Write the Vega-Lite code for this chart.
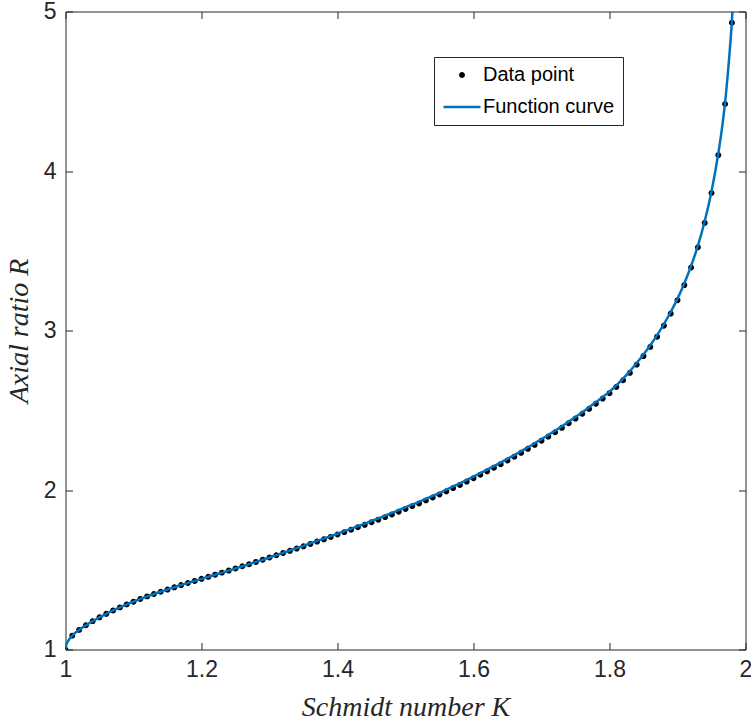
{
  "$schema": "https://vega.github.io/schema/vega-lite/v6.json",
  "width": 680,
  "height": 638,
  "autosize": {"type": "none"},
  "padding": {"left": 65.5, "top": 11.5, "right": 5.5, "bottom": 76.5},
  "background": "white",
  "config": {
    "view": {"stroke": null},
    "axis": {
      "grid": false,
      "labelFont": "Liberation Sans",
      "labelFontSize": 23,
      "labelColor": "#262626",
      "domainColor": "#262626",
      "domainWidth": 1,
      "tickColor": "#262626",
      "tickWidth": 1,
      "tickSize": -7,
      "titleFont": "Liberation Serif",
      "titleFontStyle": "italic",
      "titleFontWeight": "normal",
      "titleFontSize": 28,
      "titleColor": "#262626"
    }
  },
  "datasets": {
    "points": [
      {"K": 1.00, "R": 1.000}, {"K": 1.01, "R": 1.087}, {"K": 1.02, "R": 1.123}, {"K": 1.03, "R": 1.152},
      {"K": 1.04, "R": 1.178}, {"K": 1.05, "R": 1.202}, {"K": 1.06, "R": 1.224}, {"K": 1.07, "R": 1.245},
      {"K": 1.08, "R": 1.264}, {"K": 1.09, "R": 1.283}, {"K": 1.10, "R": 1.300}, {"K": 1.11, "R": 1.317},
      {"K": 1.12, "R": 1.333}, {"K": 1.13, "R": 1.348}, {"K": 1.14, "R": 1.362}, {"K": 1.15, "R": 1.376},
      {"K": 1.16, "R": 1.390}, {"K": 1.17, "R": 1.404}, {"K": 1.18, "R": 1.417}, {"K": 1.19, "R": 1.430},
      {"K": 1.20, "R": 1.443}, {"K": 1.21, "R": 1.456}, {"K": 1.22, "R": 1.469}, {"K": 1.23, "R": 1.482},
      {"K": 1.24, "R": 1.495}, {"K": 1.25, "R": 1.508}, {"K": 1.26, "R": 1.522}, {"K": 1.27, "R": 1.535},
      {"K": 1.28, "R": 1.549}, {"K": 1.29, "R": 1.563}, {"K": 1.30, "R": 1.577}, {"K": 1.31, "R": 1.591},
      {"K": 1.32, "R": 1.605}, {"K": 1.33, "R": 1.619}, {"K": 1.34, "R": 1.633}, {"K": 1.35, "R": 1.647},
      {"K": 1.36, "R": 1.662}, {"K": 1.37, "R": 1.677}, {"K": 1.38, "R": 1.691}, {"K": 1.39, "R": 1.706},
      {"K": 1.40, "R": 1.721}, {"K": 1.41, "R": 1.736}, {"K": 1.42, "R": 1.751}, {"K": 1.43, "R": 1.767},
      {"K": 1.44, "R": 1.782}, {"K": 1.45, "R": 1.798}, {"K": 1.46, "R": 1.814}, {"K": 1.47, "R": 1.830},
      {"K": 1.48, "R": 1.847}, {"K": 1.49, "R": 1.864}, {"K": 1.50, "R": 1.881}, {"K": 1.51, "R": 1.899},
      {"K": 1.52, "R": 1.916}, {"K": 1.53, "R": 1.935}, {"K": 1.54, "R": 1.953}, {"K": 1.55, "R": 1.972},
      {"K": 1.56, "R": 1.992}, {"K": 1.57, "R": 2.012}, {"K": 1.58, "R": 2.032}, {"K": 1.59, "R": 2.053},
      {"K": 1.60, "R": 2.074}, {"K": 1.61, "R": 2.096}, {"K": 1.62, "R": 2.117}, {"K": 1.63, "R": 2.140},
      {"K": 1.64, "R": 2.162}, {"K": 1.65, "R": 2.185}, {"K": 1.66, "R": 2.209}, {"K": 1.67, "R": 2.233},
      {"K": 1.68, "R": 2.258}, {"K": 1.69, "R": 2.283}, {"K": 1.70, "R": 2.309}, {"K": 1.71, "R": 2.335},
      {"K": 1.72, "R": 2.362}, {"K": 1.73, "R": 2.390}, {"K": 1.74, "R": 2.419}, {"K": 1.75, "R": 2.448},
      {"K": 1.76, "R": 2.478}, {"K": 1.77, "R": 2.509}, {"K": 1.78, "R": 2.541}, {"K": 1.79, "R": 2.573},
      {"K": 1.80, "R": 2.607}, {"K": 1.81, "R": 2.646}, {"K": 1.82, "R": 2.688}, {"K": 1.83, "R": 2.735},
      {"K": 1.84, "R": 2.786}, {"K": 1.85, "R": 2.840}, {"K": 1.86, "R": 2.898}, {"K": 1.87, "R": 2.961},
      {"K": 1.88, "R": 3.030}, {"K": 1.89, "R": 3.106}, {"K": 1.90, "R": 3.190}, {"K": 1.91, "R": 3.285},
      {"K": 1.92, "R": 3.395}, {"K": 1.93, "R": 3.522}, {"K": 1.94, "R": 3.675}, {"K": 1.95, "R": 3.862},
      {"K": 1.96, "R": 4.100}, {"K": 1.97, "R": 4.420}, {"K": 1.98, "R": 4.930}
    ],
    "curve": [
      {"K": 1.000, "R": 1.000}, {"K": 1.001, "R": 1.027}, {"K": 1.0025, "R": 1.043}, {"K": 1.005, "R": 1.061},
      {"K": 1.0075, "R": 1.075}, {"K": 1.01, "R": 1.087}, {"K": 1.02, "R": 1.123}, {"K": 1.03, "R": 1.152},
      {"K": 1.04, "R": 1.178}, {"K": 1.05, "R": 1.202}, {"K": 1.06, "R": 1.224}, {"K": 1.07, "R": 1.245},
      {"K": 1.08, "R": 1.264}, {"K": 1.09, "R": 1.283}, {"K": 1.10, "R": 1.300}, {"K": 1.11, "R": 1.317},
      {"K": 1.12, "R": 1.333}, {"K": 1.13, "R": 1.348}, {"K": 1.14, "R": 1.362}, {"K": 1.15, "R": 1.376},
      {"K": 1.16, "R": 1.390}, {"K": 1.17, "R": 1.404}, {"K": 1.18, "R": 1.417}, {"K": 1.19, "R": 1.430},
      {"K": 1.20, "R": 1.443}, {"K": 1.21, "R": 1.456}, {"K": 1.22, "R": 1.469}, {"K": 1.23, "R": 1.482},
      {"K": 1.24, "R": 1.495}, {"K": 1.25, "R": 1.508}, {"K": 1.26, "R": 1.522}, {"K": 1.27, "R": 1.535},
      {"K": 1.28, "R": 1.549}, {"K": 1.29, "R": 1.563}, {"K": 1.30, "R": 1.577}, {"K": 1.31, "R": 1.592},
      {"K": 1.32, "R": 1.606}, {"K": 1.33, "R": 1.621}, {"K": 1.34, "R": 1.636}, {"K": 1.35, "R": 1.650},
      {"K": 1.36, "R": 1.666}, {"K": 1.37, "R": 1.681}, {"K": 1.38, "R": 1.695}, {"K": 1.39, "R": 1.711},
      {"K": 1.40, "R": 1.726}, {"K": 1.41, "R": 1.742}, {"K": 1.42, "R": 1.757}, {"K": 1.43, "R": 1.774},
      {"K": 1.44, "R": 1.789}, {"K": 1.45, "R": 1.806}, {"K": 1.46, "R": 1.822}, {"K": 1.47, "R": 1.839},
      {"K": 1.48, "R": 1.856}, {"K": 1.49, "R": 1.874}, {"K": 1.50, "R": 1.891}, {"K": 1.51, "R": 1.909},
      {"K": 1.52, "R": 1.926}, {"K": 1.53, "R": 1.945}, {"K": 1.54, "R": 1.963}, {"K": 1.55, "R": 1.982},
      {"K": 1.56, "R": 2.002}, {"K": 1.57, "R": 2.022}, {"K": 1.58, "R": 2.042}, {"K": 1.59, "R": 2.063},
      {"K": 1.60, "R": 2.084}, {"K": 1.61, "R": 2.106}, {"K": 1.62, "R": 2.127}, {"K": 1.63, "R": 2.150},
      {"K": 1.64, "R": 2.172}, {"K": 1.65, "R": 2.195}, {"K": 1.66, "R": 2.219}, {"K": 1.67, "R": 2.243},
      {"K": 1.68, "R": 2.268}, {"K": 1.69, "R": 2.293}, {"K": 1.70, "R": 2.319}, {"K": 1.71, "R": 2.345},
      {"K": 1.72, "R": 2.372}, {"K": 1.73, "R": 2.400}, {"K": 1.74, "R": 2.429}, {"K": 1.75, "R": 2.458},
      {"K": 1.76, "R": 2.488}, {"K": 1.77, "R": 2.519}, {"K": 1.78, "R": 2.551}, {"K": 1.79, "R": 2.583},
      {"K": 1.80, "R": 2.617}, {"K": 1.81, "R": 2.656}, {"K": 1.82, "R": 2.698}, {"K": 1.83, "R": 2.745},
      {"K": 1.84, "R": 2.796}, {"K": 1.85, "R": 2.850}, {"K": 1.86, "R": 2.908}, {"K": 1.87, "R": 2.971},
      {"K": 1.88, "R": 3.040}, {"K": 1.89, "R": 3.116}, {"K": 1.90, "R": 3.200}, {"K": 1.91, "R": 3.295},
      {"K": 1.92, "R": 3.405}, {"K": 1.93, "R": 3.532}, {"K": 1.94, "R": 3.685}, {"K": 1.95, "R": 3.872},
      {"K": 1.96, "R": 4.110}, {"K": 1.965, "R": 4.255}, {"K": 1.97, "R": 4.430}, {"K": 1.975, "R": 4.660},
      {"K": 1.98, "R": 4.940}, {"K": 1.985, "R": 5.350}
    ]
  },
  "layer": [
    {
      "data": {"name": "points"},
      "mark": {"type": "point", "filled": false, "fill": "#000000", "fillOpacity": 1, "strokeWidth": 2.5, "opacity": 1, "clip": true},
      "encoding": {
        "x": {
          "field": "K", "type": "quantitative",
          "scale": {"domain": [1, 2], "nice": false, "zero": false},
          "axis": {"orient": "top", "values": [1, 1.2, 1.4, 1.6, 1.8, 2], "labels": false, "title": null}
        },
        "y": {
          "field": "R", "type": "quantitative",
          "scale": {"domain": [1, 5], "nice": false, "zero": false},
          "axis": {"orient": "right", "values": [1, 2, 3, 4, 5], "labels": false, "title": null}
        },
        "color": {
          "datum": "Data point",
          "scale": {"domain": ["Data point", "Function curve"], "range": ["#000000", "#0072BD"]},
          "legend": {
            "orient": "none",
            "legendX": 368.5,
            "legendY": 45.5,
            "title": null,
            "padding": 8,
            "strokeColor": "#262626",
            "fillColor": "white",
            "cornerRadius": 0,
            "labelFont": "Liberation Sans",
            "labelFontSize": 20,
            "labelColor": "#000000",
            "labelOffset": 1,
            "symbolStrokeWidth": 2.5,
            "symbolFillColor": "#000000",
            "rowPadding": 2
          }
        },
        "shape": {
          "datum": "Data point",
          "scale": {"domain": ["Data point", "Function curve"], "range": ["circle", "stroke"]}
        },
        "size": {
          "datum": "Data point",
          "scale": {"domain": ["Data point", "Function curve"], "range": [12, 1369]}
        }
      }
    },
    {
      "data": {"name": "curve"},
      "mark": {"type": "line", "color": "#0072BD", "strokeWidth": 2.5, "clip": true, "interpolate": "monotone"},
      "encoding": {
        "x": {
          "field": "K", "type": "quantitative",
          "axis": {"orient": "bottom", "values": [1, 1.2, 1.4, 1.6, 1.8, 2], "format": "~g", "labelFlush": false, "labelPadding": 16, "title": "Schmidt number K", "titlePadding": 12}
        },
        "y": {
          "field": "R", "type": "quantitative",
          "axis": {"orient": "left", "values": [1, 2, 3, 4, 5], "format": "d", "labelPadding": 16.5, "title": "Axial ratio R", "titlePadding": 10}
        }
      }
    }
  ],
  "resolve": {"axis": {"x": "independent", "y": "independent"}}
}
